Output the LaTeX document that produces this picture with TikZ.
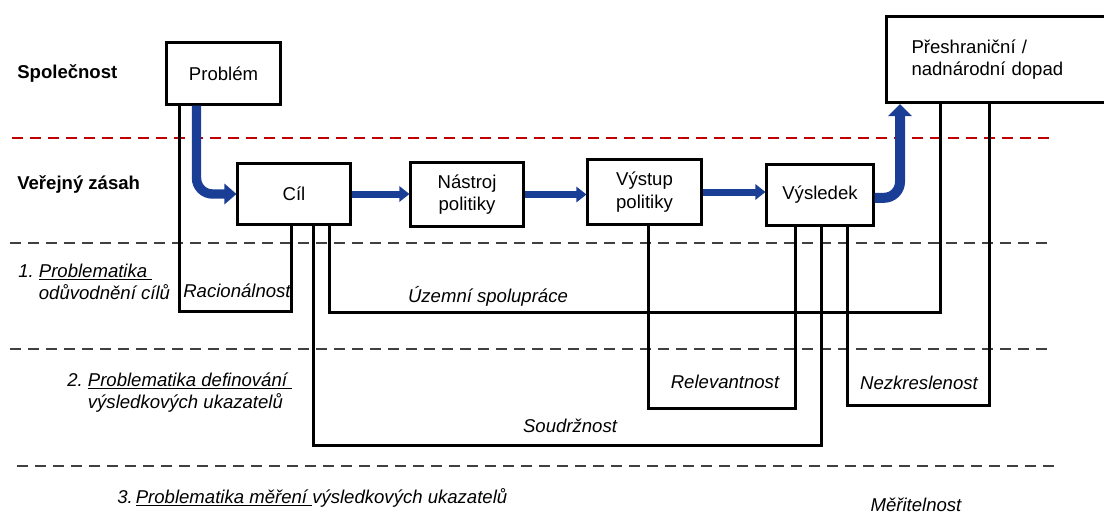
\documentclass[tikz,border=0pt]{standalone}
\usepackage{fontspec}
\setmainfont{Liberation Sans}
\usepackage{tikz}
\usetikzlibrary{arrows.meta,calc}
\usepackage{xcolor}
\definecolor{flowblue}{HTML}{1A3E96}
\definecolor{sepred}{HTML}{C00000}
\definecolor{sepgray}{HTML}{404040}
\tikzset{
  txt/.style={font=\fontsize{13.2}{16}\selectfont, inner sep=0pt},
  box/.style={txt, draw=black, line width=0.075cm, fill=white, align=center},
  lbl/.style={txt, font=\fontsize{13.2}{16}\selectfont\itshape},
  head/.style={txt, font=\fontsize{13.2}{16}\selectfont\bfseries},
  link/.style={draw=black, line width=0.075cm},
  flow/.style={-{Triangle[width=0.375cm,length=0.25cm]}, line width=0.175cm, draw=flowblue},
  bigflow/.style={-{Triangle[width=0.5cm,length=0.3cm]}, line width=0.235cm, draw=flowblue, rounded corners=0.4cm},
  sep/.style={draw=sepgray, line width=0.05cm, dash pattern=on 0.275cm off 0.175cm},
  redsep/.style={sep, draw=sepred}
}

\begin{document}
\begin{tikzpicture}[x=0.025cm, y=-0.025cm]
  \useasboundingbox (0,0) rectangle (1104,515);
  % level separators
  \draw[redsep] (12,138) -- (1050,138);
  \draw[sep] (10,243) -- (1052,243);
  \draw[sep] (10,349) -- (1052,349);
  \draw[sep] (17,466) -- (1058,466);
  % row titles
  \node[head, anchor=base west] (spol) at (17,78) {Společnost};
  \node[head, anchor=base west] (zasah) at (17,189) {Veřejný zásah};
  \node[lbl, anchor=base west] (prob1) at (18,277) {\begin{tabular}[t]{@{}l@{}l@{}}1.\ \mbox{} & \underline{Problematika\ }\\ & odůvodnění cílů\end{tabular}};
  \node[lbl, anchor=base west] (prob2) at (67,386) {\begin{tabular}[t]{@{}l@{}l@{}}2.\ \mbox{} & \underline{Problematika definování\ }\\ & výsledkových ukazatelů\end{tabular}};
  \node[lbl, anchor=base west] (prob3) at (117,503) {3.\,\underline{Problematika měření\ }výsledkových ukazatelů};
  % boxes
  \node[box, minimum width=2.825cm, minimum height=1.525cm] (problem) at (223.5,73.5) {Problém};
  \node[box, minimum width=2.8cm, minimum height=1.5cm] (cil) at (294,194) {Cíl};
  \node[box, minimum width=2.8cm, minimum height=1.575cm] (nastroj) at (467,194.5) {Nástroj\\politiky};
  \node[box, minimum width=2.825cm, minimum height=1.6cm] (vystup) at (644.5,192) {Výstup\\politiky};
  \node[box, minimum width=2.65cm, minimum height=1.5cm] (vysledek) at (820,195) {Výsledek};
  \node[box, anchor=north west, align=left, text width=4.375cm, inner xsep=0.625cm, minimum height=2.15cm] (dopad) at (885,15) {Přeshraniční /\\nadnárodní dopad};
  % criteria brackets
  \draw[link] ($(problem.south west)+(14,0)$) -- ++(0,206) -| ($(cil.south west)+(55,0)$);
  \draw[link] ($(cil.south west)+(93,0)$) -- ++(0,87) -| ($(dopad.south west)+(55,0)$);
  \draw[link] ($(cil.south west)+(77,0)$) -- ++(0,220) -| ($(vysledek.south west)+(56,0)$);
  \draw[link] ($(vystup.south west)+(62,0)$) -- ++(0,183) -| ($(vysledek.south west)+(30,0)$);
  \draw[link] ($(vysledek.south west)+(82,0)$) -- ++(0,179) -| ($(dopad.south west)+(104,0)$);
  \node[lbl, anchor=base] (racio) at (237,297) {Racionálnost};
  \node[lbl, anchor=base] (uzemi) at (488,302) {Územní spolupráce};
  \node[lbl, anchor=base] (relev) at (725,388) {Relevantnost};
  \node[lbl, anchor=base] (nezkr) at (919,389) {Nezkreslenost};
  \node[lbl, anchor=base] (soudr) at (570,432) {Soudržnost};
  \node[lbl, anchor=base] (merit) at (916,511) {Měřitelnost};
  % flow
  \draw[bigflow] ($(problem.south west)+(31,0)$) |- (cil.west);
  \draw[flow] (cil.east) -- (cil.east -| nastroj.west);
  \draw[flow] (nastroj.east) -- (nastroj.east -| vystup.west);
  \draw[flow] (vystup.east) -- (vystup.east -| vysledek.west);
  \draw[bigflow, line width=0.25cm, -{Triangle[width=0.575cm,length=0.3cm]}] ([yshift=-0.07cm]vysledek.east) -| ($(dopad.south west)+(15,0)$);
\end{tikzpicture}
\end{document}
